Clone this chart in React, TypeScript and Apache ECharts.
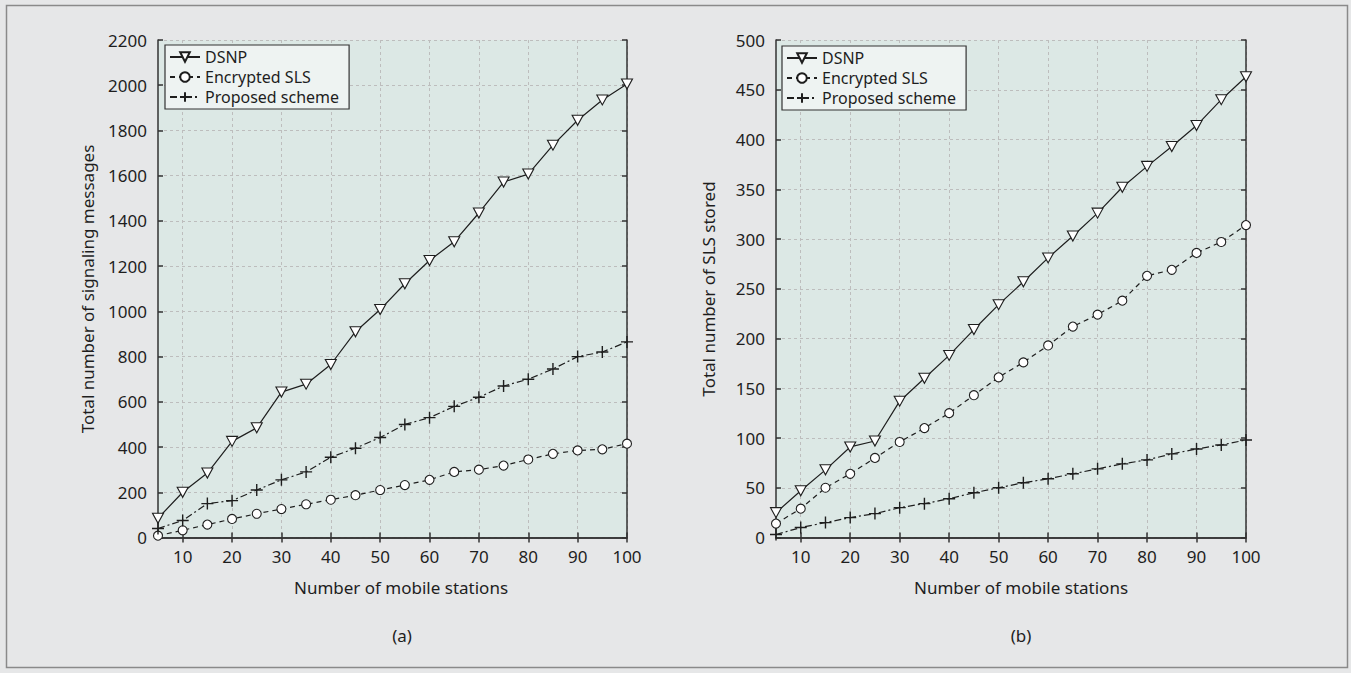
import React, { useEffect, useRef } from "react";
import * as echarts from "echarts";

const stations = [5, 10, 15, 20, 25, 30, 35, 40, 45, 50, 55, 60, 65, 70, 75, 80, 85, 90, 95, 100];
const xTicks = [10, 20, 30, 40, 50, 60, 70, 80, 90, 100];
const seriesNames = ["DSNP", "Encrypted SLS", "Proposed scheme"];

// (a) Total number of signaling messages
const dsnpA = [85, 200, 285, 425, 485, 643, 678, 765, 910, 1008, 1122, 1225, 1308, 1435, 1572, 1607, 1735, 1845, 1935, 2005];
const slsA = [8, 32, 57, 82, 105, 126, 147, 167, 187, 210, 232, 255, 290, 300, 318, 345, 370, 385, 390, 415];
const propA = [40, 75, 150, 163, 210, 255, 290, 355, 395, 442, 500, 530, 580, 620, 670, 700, 745, 800, 820, 865];

// (b) Total number of SLS stored
const dsnpB = [25, 47, 68, 91, 97, 137, 160, 183, 209, 234, 257, 281, 303, 326, 352, 373, 393, 414, 440, 463];
const slsB = [14, 29, 50, 64, 80, 96, 110, 125, 143, 161, 176, 193, 212, 224, 238, 263, 269, 286, 297, 314];
const propB = [3, 10, 15, 20, 24, 30, 34, 39, 45, 50, 55, 59, 64, 69, 74, 78, 84, 89, 93, 98];

const FONT = "Noto Sans";
const INK = "#1e1e1e";

const triDown = "path://M0,0L10,0L5,9Z";
const plus = "path://M5,0L5,10M0,5L10,5";

function pairs(vals: number[]) {
  return stations.map((x, i) => [x, vals[i]]);
}

function makeSeries(vals: number[][], xi: number, yi: number) {
  const styles = [
    { symbol: triDown, size: [11, 10], type: "solid" as any },
    { symbol: "circle", size: 9, type: [5, 4] as any },
    { symbol: plus, size: 12, type: [7, 3, 2, 3] as any },
  ];
  return vals.map((v, k) => ({
    name: seriesNames[k],
    type: "line",
    xAxisIndex: xi,
    yAxisIndex: yi,
    data: pairs(v),
    symbol: styles[k].symbol,
    symbolSize: styles[k].size,
    showAllSymbol: true,
    itemStyle: {
      color: k === 2 ? "rgba(0,0,0,0)" : "#ffffff",
      borderColor: INK,
      borderWidth: k === 2 ? 1.4 : 1.1,
    },
    lineStyle: { color: INK, width: 1.2, type: styles[k].type },
    emphasis: { disabled: true },
    z: 3,
  }));
}

function xAxes(gridIndex: number) {
  const common = {
    type: "value",
    gridIndex,
    min: 5,
    max: 100,
    axisLine: { show: true, lineStyle: { color: "#333", width: 1.5 } },
    axisTick: { show: true, inside: true, length: 5, customValues: xTicks, lineStyle: { color: "#333", width: 1.5 } },
  };
  return [
    {
      ...common,
      position: "bottom",
      axisLabel: { show: true, customValues: xTicks, margin: 10, fontFamily: FONT, fontSize: 17, color: INK },
      splitLine: { show: true, lineStyle: { color: "#bdbdbd", type: [3, 3], width: 1 } },
    },
    {
      ...common,
      position: "top",
      axisLabel: { show: false },
      splitLine: { show: false },
    },
  ];
}

function yAxes(gridIndex: number, max: number, interval: number) {
  const common = {
    type: "value",
    gridIndex,
    min: 0,
    max,
    interval,
    axisLine: { show: true, lineStyle: { color: "#333", width: 1.5 } },
    axisTick: { show: true, inside: true, length: 5, lineStyle: { color: "#333", width: 1.5 } },
  };
  return [
    {
      ...common,
      position: "left",
      axisLabel: {
        show: true,
        margin: 11,
        fontFamily: FONT,
        fontSize: 17,
        color: INK,
        formatter: (v: number) => String(v),
      },
      splitLine: { show: true, lineStyle: { color: "#bdbdbd", type: [3, 3], width: 1 } },
    },
    {
      ...common,
      position: "right",
      axisLabel: { show: false },
      splitLine: { show: false },
    },
  ];
}

function legend(left: number, top: number) {
  return {
    orient: "vertical",
    left,
    top,
    data: seriesNames,
    itemWidth: 30,
    itemHeight: 12,
    itemGap: 4,
    padding: [4, 10, 4, 4],
    backgroundColor: "#eef3f2",
    borderColor: "#333",
    borderWidth: 1.2,
    borderRadius: 0,
    selectedMode: false,
    textStyle: { fontFamily: FONT, fontSize: 16, lineHeight: 16, color: INK },
  };
}

function text(x: number, y: number, s: string, rotate = 0) {
  return {
    type: "text",
    x,
    y,
    rotation: rotate,
    style: {
      text: s,
      fontFamily: FONT,
      fontSize: 17,
      fill: INK,
      textAlign: "center",
      textVerticalAlign: "middle",
    },
  };
}

export default function App() {
  const ref = useRef<HTMLDivElement>(null);
  useEffect(() => {
    if (!ref.current) return;
    const chart = echarts.init(ref.current, undefined, { renderer: "svg" });
    chart.setOption({
      animation: false,
      backgroundColor: "#e6e7e8",
      grid: [
        { left: 158, top: 40, width: 469, height: 497.5, show: true, backgroundColor: "#dce8e5", borderWidth: 0 },
        { left: 776, top: 40, width: 470, height: 497.5, show: true, backgroundColor: "#dce8e5", borderWidth: 0 },
      ],
      xAxis: [...xAxes(0), ...xAxes(1)],
      yAxis: [...yAxes(0, 2200, 200), ...yAxes(1, 500, 50)],
      legend: [legend(165, 45), legend(782, 46)],
      series: [
        ...makeSeries([dsnpA, slsA, propA], 0, 0),
        ...makeSeries([dsnpB, slsB, propB], 2, 2),
      ],
      graphic: [
        {
          type: "rect",
          shape: { x: 6.5, y: 5.5, width: 1341, height: 662 },
          style: { fill: "none", stroke: "#8a8a8a", lineWidth: 1.5 },
          silent: true,
        },
        text(401, 587, "Number of mobile stations"),
        text(1021, 587, "Number of mobile stations"),
        text(402, 635, "(a)"),
        text(1021, 635, "(b)"),
        text(87, 289, "Total number of signaling messages", Math.PI / 2),
        text(708, 289, "Total number of SLS stored", Math.PI / 2),
      ],
    });
    return () => chart.dispose();
  }, []);
  return (
    <div
      ref={ref}
      style={{ position: "fixed", left: 0, top: 0, width: 1351, height: 673 }}
    />
  );
}
